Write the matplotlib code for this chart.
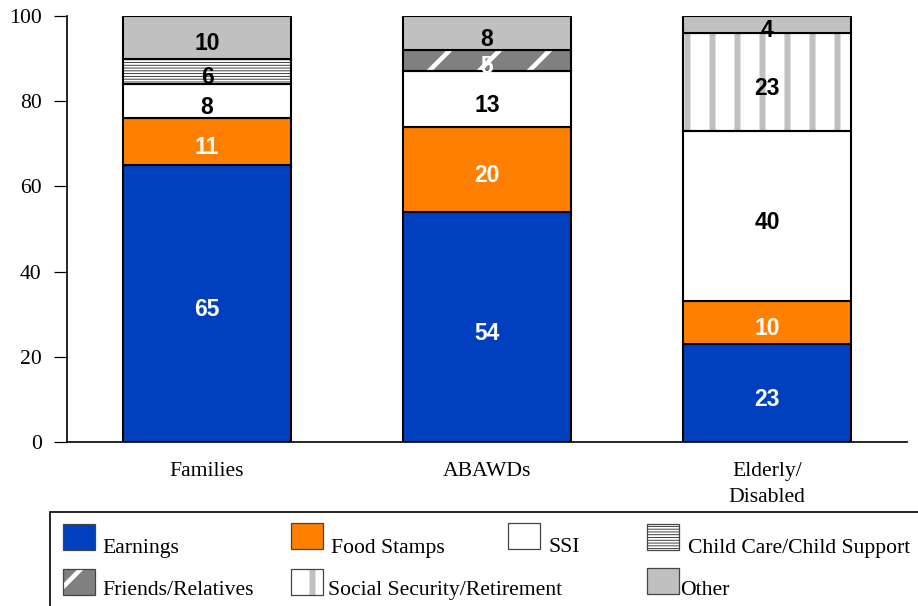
import matplotlib
matplotlib.use('Agg')
import matplotlib.pyplot as plt
import numpy as np
from matplotlib.patches import Rectangle
from matplotlib.transforms import offset_copy

# ---------------- data ----------------
categories = ['Families', 'ABAWDs', 'Elderly/\nDisabled']
series_names = ['Earnings', 'Food Stamps', 'SSI', 'Child Care/Child Support',
                'Friends/Relatives', 'Social Security/Retirement', 'Other']
earnings = [65, 54, 23]
food_stamps = [11, 20, 10]
ssi = [8, 13, 40]
child_care = [6, 0, 0]
friends = [0, 5, 0]
social_security = [0, 0, 23]
other = [10, 8, 4]
y_ticks = [0, 20, 40, 60, 80, 100]

series_values = [earnings, food_stamps, ssi, child_care, friends, social_security, other]

# ---------------- styles ----------------
styles = [
    dict(fc='#0040BF', hatch=None, hc=None, hlw=None, tc='white'),
    dict(fc='#FF8000', hatch=None, hc=None, hlw=None, tc='white'),
    dict(fc='white', hatch=None, hc=None, hlw=None, tc='black'),
    dict(fc='white', hatch='-' * 9, hc='#222222', hlw=0.4, tc='black'),
    dict(fc='#808080', hatch='/', hc='white', hlw=2.2, tc='white'),
    dict(fc='white', hatch='|', hc='#C0C0C0', hlw=2.9, tc='black'),
    dict(fc='#C0C0C0', hatch=None, hc=None, hlw=None, tc='black'),
]

W, H, DPI = 918, 606, 150
fig = plt.figure(figsize=(W / DPI, H / DPI), dpi=DPI)
fig.patch.set_facecolor('white')
ax = fig.add_axes([67 / W, 1 - 442 / H, 840 / W, 426 / H])

serif = 'Liberation Serif'
sans = 'Liberation Sans'
SERIF_SIZE = 10.4
LABEL_SIZE = 11


def set_hlw(patch, lw):
    if lw is None:
        return
    if hasattr(patch, 'set_hatch_linewidth'):
        patch.set_hatch_linewidth(lw)


label_tr = offset_copy(ax.transData, fig=fig, x=0, y=-3, units='points')

x = np.arange(len(categories))
bar_w = 0.6
bottom = np.zeros(len(categories))
for vals, st in zip(series_values, styles):
    vals = np.array(vals, dtype=float)
    mask = vals > 0
    if st['hatch']:
        with plt.rc_context({'hatch.linewidth': st['hlw']}):
            bars = ax.bar(x[mask], vals[mask], bar_w, bottom=bottom[mask],
                          color=st['fc'], edgecolor=st['hc'], linewidth=0,
                          hatch=st['hatch'], zorder=2)
        for b in bars:
            set_hlw(b, st['hlw'])
        ax.bar(x[mask], vals[mask], bar_w, bottom=bottom[mask], fill=False,
               edgecolor='black', linewidth=1.0, zorder=3)
    else:
        ax.bar(x[mask], vals[mask], bar_w, bottom=bottom[mask], color=st['fc'],
               edgecolor='black', linewidth=1.0, zorder=3)
    for xi, v, b0 in zip(x, vals, bottom):
        if v > 0:
            ax.text(xi, b0 + v / 2, f'{int(v)}', ha='center', va='center',
                    color=st['tc'], fontsize=LABEL_SIZE, fontweight='bold',
                    family=sans, zorder=4, transform=label_tr)
    bottom = bottom + vals

ax.set_xlim(-0.5, 2.5)
ax.set_ylim(0, 100)
ax.set_yticks(y_ticks)
ax.set_yticklabels([str(t) for t in y_ticks], family=serif, fontsize=SERIF_SIZE)
ax.set_xticks(x)
ax.set_xticklabels(categories, family=serif, fontsize=SERIF_SIZE, linespacing=1.55)
ax.tick_params(axis='x', length=0, pad=9.5)
ax.tick_params(axis='y', length=6.2, width=0.6, pad=6, colors='black')
for s in ['top', 'right']:
    ax.spines[s].set_visible(False)
for s in ['left', 'bottom']:
    ax.spines[s].set_linewidth(0.8)
    ax.spines[s].set_color('black')

# ---------------- legend (drawn in figure pixel coords) ----------------
def fx(px):
    return px / W


def fy(py):
    return 1 - py / H


fig.add_artist(Rectangle((fx(50), fy(640)), fx(900), 128 / H, transform=fig.transFigure,
                         fill=False, edgecolor='black', linewidth=0.8))

legend_items = [
    # (series index, patch x, patch top y, text x, text baseline y)
    (0, 63, 524, 102, 553),
    (1, 291, 523, 331, 553),
    (2, 508, 523, 548, 552),
    (3, 647, 524, 688, 553),
    (4, 63, 569, 102, 595),
    (5, 291, 569, 328, 595),
    (6, 647, 568, 680, 595),
]
pw, ph = 32, 26
for idx, px, py, tx, ty in legend_items:
    st = styles[idx]
    if st['hatch']:
        with plt.rc_context({'hatch.linewidth': st['hlw']}):
            r = Rectangle((fx(px), fy(py + ph)), pw / W, ph / H, transform=fig.transFigure,
                          facecolor=st['fc'], edgecolor=st['hc'], linewidth=0,
                          hatch=st['hatch'])
        set_hlw(r, st['hlw'])
        fig.add_artist(r)
        fig.add_artist(Rectangle((fx(px), fy(py + ph)), pw / W, ph / H,
                                 transform=fig.transFigure, fill=False,
                                 edgecolor='#444444', linewidth=0.6))
    else:
        fig.add_artist(Rectangle((fx(px), fy(py + ph)), pw / W, ph / H,
                                 transform=fig.transFigure, facecolor=st['fc'],
                                 edgecolor='#444444', linewidth=0.6))
    fig.text(fx(tx), fy(ty), series_names[idx], family=serif, fontsize=SERIF_SIZE,
             ha='left', va='baseline')

fig.savefig('out.png', dpi=DPI)
